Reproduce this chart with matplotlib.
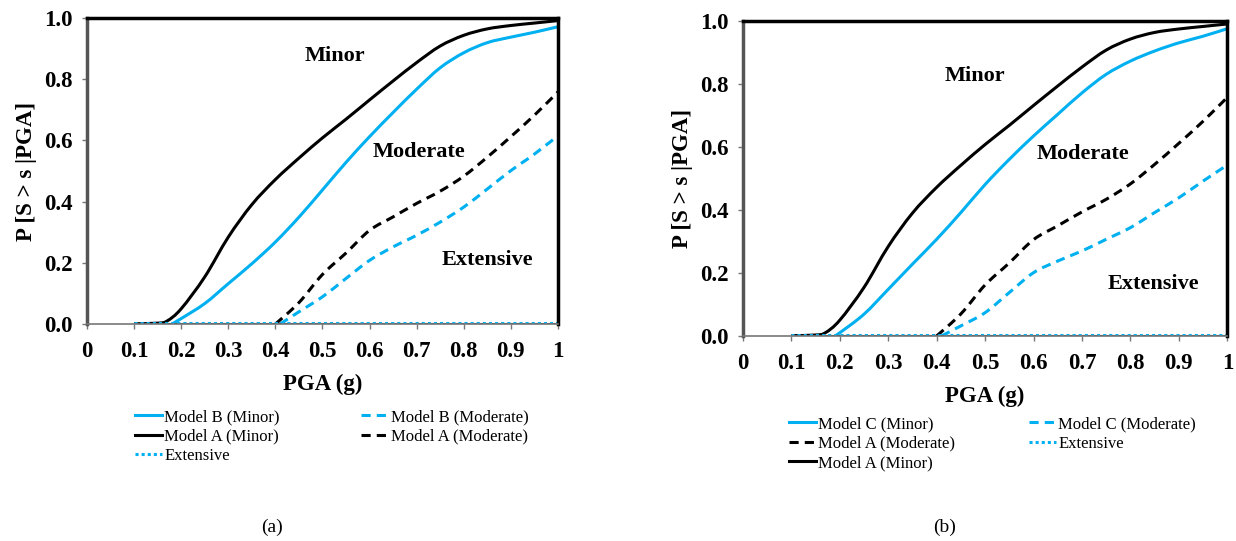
import numpy as np
import matplotlib
matplotlib.use("Agg")
import matplotlib.pyplot as plt
from matplotlib.path import Path
from matplotlib.patches import PathPatch
from matplotlib.lines import Line2D

plt.rcParams['font.family'] = ['Liberation Serif', 'DejaVu Serif']

BLUE = "#00B0F0"

# shared x grid for the fragility curves (PGA, g)
pga = [0.10, 0.15, 0.17, 0.20, 0.25, 0.30, 0.35, 0.40, 0.45, 0.50, 0.55,
       0.60, 0.65, 0.70, 0.75, 0.80, 0.85, 0.90, 0.95, 1.00]

# Model A (Minor) - same in both panels
a_minor = [0.001, 0.003, 0.01, 0.05, 0.154, 0.284, 0.39, 0.472, 0.542, 0.608,
           0.669, 0.732, 0.794, 0.854, 0.908, 0.943, 0.964, 0.975, 0.983, 0.991]

# panel (a) Model B (Minor)
b_minor_x = [0.18, 0.20, 0.25, 0.30, 0.35, 0.40, 0.45, 0.50, 0.55, 0.60,
             0.65, 0.70, 0.75, 0.80, 0.85, 0.90, 0.95, 1.00]
b_minor = [0.0, 0.018, 0.067, 0.132, 0.197, 0.268, 0.349, 0.438, 0.528, 0.612,
           0.691, 0.767, 0.837, 0.886, 0.919, 0.937, 0.953, 0.971]

# moderate curves start at 0.4 g
mod_x = [0.40, 0.45, 0.50, 0.55, 0.60, 0.65, 0.70, 0.75, 0.80, 0.85, 0.90, 0.95, 1.00]
a_moderate = [0.0, 0.07, 0.162, 0.232, 0.306, 0.35, 0.394, 0.434, 0.483, 0.545, 0.612, 0.682, 0.758]

mod_x2 = [0.41, 0.45, 0.50, 0.55, 0.60, 0.65, 0.70, 0.75, 0.80, 0.85, 0.90, 0.95, 1.00]
b_moderate = [0.0, 0.04, 0.089, 0.149, 0.208, 0.252, 0.29, 0.333, 0.382, 0.441, 0.501, 0.555, 0.615]

# panel (b) Model C
c_minor_x = [0.19, 0.20, 0.25, 0.30, 0.35, 0.40, 0.45, 0.50, 0.55, 0.60,
             0.65, 0.70, 0.75, 0.80, 0.85, 0.90, 0.95, 1.00]
c_minor = [0.0, 0.01, 0.069, 0.148, 0.228, 0.307, 0.392, 0.481, 0.561, 0.635,
           0.704, 0.772, 0.831, 0.873, 0.905, 0.931, 0.952, 0.976]
c_moderate = [0.0, 0.032, 0.074, 0.138, 0.201, 0.238, 0.27, 0.307, 0.344, 0.392, 0.439, 0.492, 0.543]

# extensive damage state stays at ~0
ext_x = [0.10, 1.00]
ext_y = [0.003, 0.003]

xticks = [0, 0.1, 0.2, 0.3, 0.4, 0.5, 0.6, 0.7, 0.8, 0.9, 1]
xticklabels = ["0", "0.1", "0.2", "0.3", "0.4", "0.5", "0.6", "0.7", "0.8", "0.9", "1"]
yticks = [0.0, 0.2, 0.4, 0.6, 0.8, 1.0]


def smooth_line(ax, x, y, **kw):
    # excel-style smoothed line: catmull-rom segments drawn as cubic beziers
    p = np.column_stack([x, y]).astype(float)
    ext = np.vstack([p[0], p, p[-1]])
    verts = [p[0]]
    codes = [Path.MOVETO]
    for i in range(len(p) - 1):
        p0, p1, p2, p3 = ext[i], ext[i + 1], ext[i + 2], ext[i + 3]
        verts += [p1 + (p2 - p0) / 6, p2 - (p3 - p1) / 6, p2]
        codes += [Path.CURVE4] * 3
    patch = PathPatch(Path(verts, codes), fill=False, capstyle="butt", **kw)
    ax.add_patch(patch)
    return Line2D([], [], color=kw.get("edgecolor"), lw=kw.get("lw", 2),
                  ls=kw.get("ls", "-"))


def style_axes(ax):
    ax.set_xlim(0, 1)
    ax.set_ylim(0, 1)
    ax.set_xticks(xticks)
    ax.set_xticklabels(xticklabels)
    ax.set_yticks(yticks)
    ax.set_yticklabels([f"{v:.1f}" for v in yticks])
    for lab in ax.get_xticklabels() + ax.get_yticklabels():
        lab.set_fontweight("bold")
        lab.set_fontsize(16.5)
    ax.tick_params(axis="x", direction="out", length=3.5, width=1, color="#777777", pad=9)
    ax.tick_params(axis="y", direction="out", length=3.5, width=1, color="#777777", pad=7)
    ax.spines["top"].set_color("black")
    ax.spines["top"].set_linewidth(2.5)
    ax.spines["right"].set_color("black")
    ax.spines["right"].set_linewidth(2.5)
    ax.spines["left"].set_color("#555555")
    ax.spines["left"].set_linewidth(2.5)
    ax.spines["bottom"].set_color("#777777")
    ax.spines["bottom"].set_linewidth(1.2)
    ax.set_xlabel("PGA (g)", fontsize=16.5, fontweight="bold", labelpad=8)
    ax.set_ylabel("P [S > s |PGA]", fontsize=16.5, fontweight="bold", labelpad=5)


def ext_line(ax):
    ax.plot(ext_x, [0.001, 0.001], color="#222222", lw=2.2, solid_capstyle="butt")
    return ax.plot(ext_x, ext_y, color=BLUE, lw=2.2, ls=(0, (1, 1)))[0]


fig = plt.figure(figsize=(12.36, 5.41), dpi=100)
ax1 = fig.add_axes([0.0704, 0.401, 0.381, 0.566])
ax2 = fig.add_axes([0.601, 0.379, 0.392, 0.582])

dash = (0, (3, 2))
leg_kw = dict(ncol=2, loc="upper left", frameon=False, fontsize=12,
              handlelength=1.6, handletextpad=0.15, labelspacing=0.2,
              borderpad=0, borderaxespad=0)

# ---- panel (a)
h_bmin = smooth_line(ax1, b_minor_x, b_minor, edgecolor=BLUE, lw=2.2)
h_amin = smooth_line(ax1, pga, a_minor, edgecolor="black", lw=2.2)
h_ext = ext_line(ax1)
h_bmod = smooth_line(ax1, mod_x2, b_moderate, edgecolor=BLUE, lw=2.2, ls=dash)
h_amod = smooth_line(ax1, mod_x, a_moderate, edgecolor="black", lw=2.2, ls=dash)
style_axes(ax1)
ax1.text(0.526, 0.875, "Minor", ha="center", va="center", fontsize=16, fontweight="bold")
ax1.text(0.705, 0.561, "Moderate", ha="center", va="center", fontsize=16, fontweight="bold")
ax1.text(0.85, 0.208, "Extensive", ha="center", va="center", fontsize=16, fontweight="bold")
ax1.legend([h_bmin, h_amin, h_ext, h_bmod, h_amod],
           ["Model B (Minor)", "Model A (Minor)", "Extensive",
            "Model B (Moderate)", "Model A (Moderate)"],
           bbox_to_anchor=(0.102, -0.278), columnspacing=4.9, **leg_kw)

# ---- panel (b)
h_cmin = smooth_line(ax2, c_minor_x, c_minor, edgecolor=BLUE, lw=2.2)
h_amod2 = smooth_line(ax2, mod_x, a_moderate, edgecolor="black", lw=2.2, ls=dash)
h_amin2 = smooth_line(ax2, pga, a_minor, edgecolor="black", lw=2.2)
h_cmod = smooth_line(ax2, mod_x2, c_moderate, edgecolor=BLUE, lw=2.2, ls=dash)
h_ext2 = ext_line(ax2)
style_axes(ax2)
ax2.text(0.48, 0.827, "Minor", ha="center", va="center", fontsize=16, fontweight="bold")
ax2.text(0.702, 0.577, "Moderate", ha="center", va="center", fontsize=16, fontweight="bold")
ax2.text(0.847, 0.166, "Extensive", ha="center", va="center", fontsize=16, fontweight="bold")
ax2.legend([h_cmin, h_amod2, h_amin2, h_cmod, h_ext2],
           ["Model C (Minor)", "Model A (Moderate)", "Model A (Minor)",
            "Model C (Moderate)", "Extensive"],
           bbox_to_anchor=(0.095, -0.255), columnspacing=4.45, **leg_kw)

fig.text(272 / 1236, 1 - 527 / 541, "(a)", ha="center", va="center", fontsize=14)
fig.text(945 / 1236, 1 - 527 / 541, "(b)", ha="center", va="center", fontsize=14)

fig.savefig("out.png", dpi=100)
